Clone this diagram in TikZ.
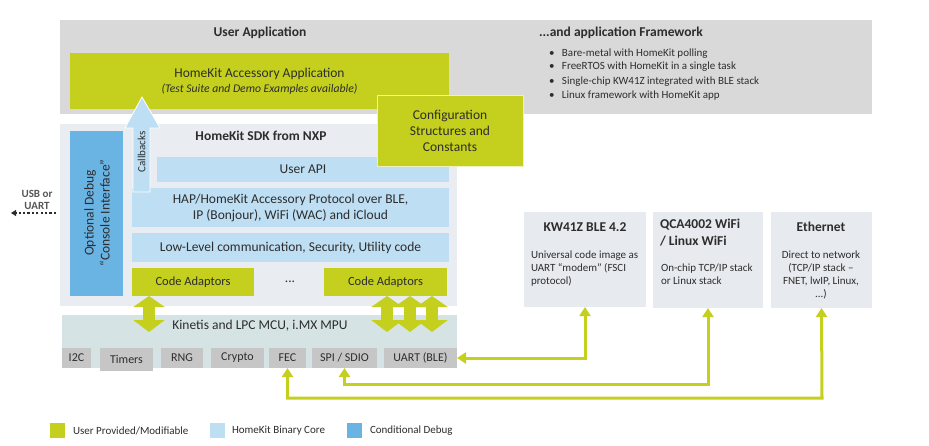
\documentclass[tikz,border=0pt]{standalone}
\usepackage{fontspec}
\setmainfont{Carlito}
\usetikzlibrary{arrows.meta,calc}
\definecolor{hkgreen}{RGB}{197,208,30}
\definecolor{hklight}{RGB}{190,222,243}
\definecolor{hkdebug}{RGB}{106,180,228}
\definecolor{hkgray}{RGB}{217,217,217}
\definecolor{hksdk}{RGB}{233,237,241}
\definecolor{hkmcu}{RGB}{214,227,228}
\definecolor{hkchip}{RGB}{198,198,198}
\definecolor{hkbox}{RGB}{231,235,239}
\definecolor{hktext}{RGB}{45,45,45}
\begin{document}
\begin{tikzpicture}[x=1pt,y=-1pt,
  every node/.style={inner sep=0pt,outer sep=0pt,text=hktext},
  area/.style={anchor=north west,draw=none,align=center},
  fbig/.style={font=\fontsize{13.5}{16}\selectfont},
  fbold/.style={font=\fontsize{13.5}{16}\selectfont\bfseries},
  fsmall/.style={font=\fontsize{11}{12.8}\selectfont},
  fchip/.style={font=\fontsize{12}{13}\selectfont},
  chip/.style={area,fill=hkchip,minimum height=20pt,fchip},
  gconn/.style={draw=hkgreen,line width=3pt,{Triangle[width=11pt,length=9pt]}-{Triangle[width=11pt,length=9pt]}},
  bigdbl/.style={draw=hkgreen,line width=12pt,{Triangle[width=31pt,length=11pt]}-{Triangle[width=31pt,length=12pt]}},
  legsq/.style={anchor=north west,minimum width=15pt,minimum height=15pt},
  legtxt/.style={anchor=west,font=\fontsize{11}{12}\selectfont}
]
\useasboundingbox[fill=white] (0,0) rectangle (929,445);

% top gray panel
\node[area,fill=hkgray,minimum width=812pt,minimum height=94pt] (top) at (60,20) {};
\node[fbold] (uatitle) at (260,33) {User Application};
\node[fbold,anchor=west] (fwtitle) at (539,33) {...and application Framework};
\foreach \yy/\tt in {54/Bare-metal with HomeKit polling,
                     67/FreeRTOS with HomeKit in a single task,
                     82/Single-chip KW41Z integrated with BLE stack,
                     96/Linux framework with HomeKit app}{
  \node[fsmall,anchor=west] at (549,\yy) {\makebox[13pt][l]{\textbullet}\tt};
}

% HomeKit accessory application
\node[area,fill=hkgreen,minimum width=379pt,minimum height=56pt,fbig] (app) at (70,53)
  {HomeKit Accessory Application\\[-1pt]{\itshape\fontsize{11.7}{14}\selectfont(Test Suite and Demo Examples available)}};

% SDK panel
\node[area,fill=hksdk,minimum width=397pt,minimum height=182pt] (sdk) at (60,124) {};
\node[fbold] (sdktitle) at (261,136) {HomeKit SDK from NXP};

\node[area,fill=hkdebug,minimum width=53pt,minimum height=165pt] (debug) at (70,131) {};
\node[fbig,rotate=90,align=center] (debugtxt) at (97,213) {Optional Debug\\“Console Interface”};

\node[area,fill=hklight,minimum width=292pt,minimum height=25pt,fbig] (userapi) at (157,157) {User API};
\node[area,fill=hklight,minimum width=317pt,minimum height=39pt,fbig] (hap) at (132,188)
  {HAP/HomeKit Accessory Protocol over BLE,\\IP (Bonjour), WiFi (WAC) and iCloud};
\node[area,fill=hklight,minimum width=317pt,minimum height=29pt,fbig] (low) at (132,233)
  {Low-Level communication, Security, Utility code};
\node[area,fill=hkgreen,minimum width=122pt,minimum height=28pt,font=\fontsize{12.5}{14}\selectfont] (ca1) at (132,268) {Code Adaptors};
\node[area,fill=hkgreen,minimum width=123pt,minimum height=28pt,font=\fontsize{12.5}{14}\selectfont] (ca2) at (324,268) {Code Adaptors};
\node[fbig] (dots) at (290,282) {...};

% callbacks arrow
\filldraw[fill=hklight,draw=white,line width=0.8pt]
  (133,192) -- (133,128) -- (125,128) -- (142,97) -- (160,128) -- (150,128) -- (150,192) -- cycle;
\node[rotate=90,font=\fontsize{11}{12}\selectfont] (cb) at (141.5,152) {Callbacks};

% configuration box
\node[area,fill=hkgreen,draw=white!70!hkgreen,line width=0.8pt,minimum width=146pt,minimum height=71pt,fbig] (config) at (377,95)
  {Configuration\\Structures and\\Constants};

% MCU panel
\node[area,fill=hkmcu,minimum width=395pt,minimum height=53pt] (mcu) at (62,315) {};
\node[fbig] (mcutxt) at (260,326) {Kinetis and LPC MCU, i.MX MPU};

\node[chip,minimum width=29pt] (i2c) at (62,348) {I2C};
\node[chip,minimum width=53pt,minimum height=23pt] (timers) at (100,348) {Timers};
\node[chip,minimum width=42pt] (rng) at (161,348) {RNG};
\node[chip,minimum width=53pt] (crypto) at (211,348) {Crypto};
\node[chip,minimum width=37pt] (fec) at (269,348) {FEC};
\node[chip,minimum width=65pt] (spi) at (312,348) {SPI / SDIO};
\node[chip,minimum width=73pt] (uart) at (384,348) {UART (BLE)};

% big double arrows
\coordinate (k1) at (149,332);
\coordinate (k2) at (387,332);
\coordinate (k3) at (410,332);
\coordinate (k4) at (432,332);
\draw[bigdbl] (ca1.south -| k1) -- (k1);
\draw[bigdbl] (ca2.south -| k2) -- (k2);
\draw[bigdbl] (ca2.south -| k3) -- (k3);
\draw[bigdbl] (ca2.south -| k4) -- (k4);

% USB or UART
\node[align=center,font=\fontsize{11}{11.5}\selectfont\bfseries,text=hktext!80] (usb) at (37,200) {USB or\\UART};
\coordinate (usbend) at (11,213);
\draw[hktext,line width=1.3pt,dash pattern=on 2.2pt off 2.2pt,-{Triangle[width=6pt,length=5pt]}] (debug.west |- usbend) ++(-14,0) -- (usbend);

% right boxes
\node[area,fill=hkbox,minimum width=122pt,minimum height=95pt] (kw) at (524,212) {};
\node[fbold] at (585,227) {KW41Z BLE 4.2};
\node[fsmall,anchor=north west,align=left] at (531,251) {Universal code image as\\UART “modem” (FSCI\\protocol)};

\node[area,fill=hkbox,minimum width=110pt,minimum height=96pt] (qca) at (653,212) {};
\node[anchor=north west,align=left,font=\fontsize{13.5}{17}\selectfont\bfseries] at (660,219) {QCA4002 WiFi\\/ Linux WiFi};
\node[fsmall,anchor=north west,align=left] at (661,264) {On-chip TCP/IP stack\\or Linux stack};

\node[area,fill=hkbox,minimum width=101pt,minimum height=96pt] (eth) at (771,212) {};
\node[fbold] at (821,227) {Ethernet};
\node[fsmall,anchor=north,align=center] at (821,251) {Direct to network\\(TCP/IP stack –\\FNET, lwIP, Linux,\\...)};

% green connectors
\coordinate (qturn) at (708,384);
\coordinate (eturn) at (822,398);
\draw[gconn] (uart.east) -| (kw.south);
\draw[gconn] (spi.south) |- (qturn) -- (qca.south);
\draw[gconn] (fec.south) |- (eturn) -- (eth.south);

% legend
\node[legsq,fill=hkgreen] (lg1) at (50,423) {};
\node[legtxt] at (73,430.5) {User Provided/Modifiable};
\node[legsq,fill=hklight] (lg2) at (210,423) {};
\node[legtxt] at (232,430.5) {HomeKit Binary Core};
\node[legsq,fill=hkdebug] (lg3) at (347,423) {};
\node[legtxt] at (370,430.5) {Conditional Debug};
\end{tikzpicture}
\end{document}
